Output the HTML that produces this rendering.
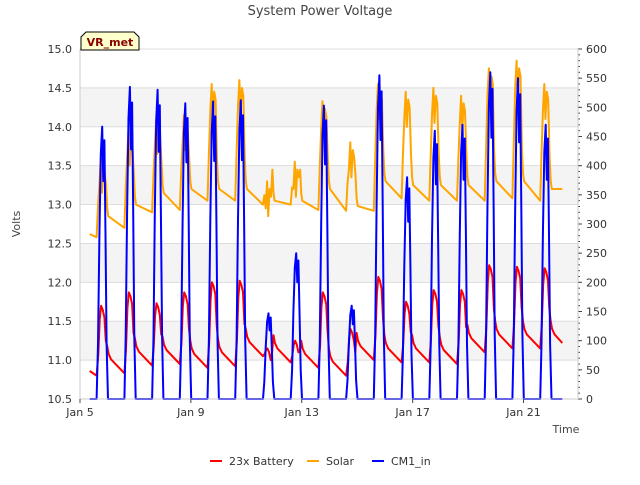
<!DOCTYPE html>
<html><head><meta charset="utf-8"><style>
body{margin:0;background:#fff;font-family:"Liberation Sans","DejaVu Sans",sans-serif}
svg text{font-family:"DejaVu Sans","Liberation Sans",sans-serif}
</style></head><body>
<svg id="c" width="640" height="480" xmlns="http://www.w3.org/2000/svg">
<rect width="640" height="480" fill="#fff"/>
<g id="bands"></g><g id="grid"></g>
<g id="series"></g><g id="axes"></g>
<text x="320" y="15" text-anchor="middle" font-size="13" fill="#444">System Power Voltage</text>
<text x="20" y="224" text-anchor="middle" font-size="11" fill="#444" transform="rotate(-90 20 224)">Volts</text>
<text x="566" y="433" text-anchor="middle" font-size="11" fill="#444">Time</text>
<g><path d="M81 50 L81 37 L86 32 L134 32 L139 37 L139 50 Z" fill="#ffffcc" stroke="#000"/><text x="110" y="46" text-anchor="middle" font-size="11" font-weight="bold" fill="#8b0000">VR_met</text></g>
<g>
<g><line x1="210" y1="461" x2="222" y2="461" stroke="#f00" stroke-width="2"/><text x="229" y="465" font-size="11" fill="#333">23x Battery</text></g>
<g><line x1="307" y1="461" x2="319" y2="461" stroke="orange" stroke-width="2"/><text x="326" y="465" font-size="11" fill="#333">Solar</text></g>
<g><line x1="372" y1="461" x2="384" y2="461" stroke="#00f" stroke-width="2"/><text x="391" y="465" font-size="11" fill="#333">CM1_in</text></g>
</g>
</svg>
<script>
// per-day values (day index 0 = Jan 5)
const batPre  =[10.80,10.83,10.93,10.95,10.90,10.92,11.05,10.97,10.90,10.80,11.00,10.97,10.97,10.95,11.10,11.15,11.15];
const batPeak =[11.70,11.87,11.73,11.87,12.00,12.02,11.15,11.25,11.87,11.40,12.07,11.75,11.90,11.90,12.22,12.20,12.18];
const solMin  =[12.58,12.70,12.90,12.93,13.05,13.05,13.00,13.00,12.93,12.92,12.92,13.08,13.05,13.05,13.05,13.08,13.05];
const solPeak =[13.60,13.95,14.10,14.15,14.55,14.60,13.30,13.55,14.33,13.80,14.55,14.45,14.50,14.40,14.75,14.85,14.55];
const solAfter=[12.85,13.00,13.15,13.20,13.20,13.20,13.05,13.05,13.20,12.98,13.30,13.25,13.25,13.25,13.30,13.30,13.20];
const cmPeak  =[467,535,530,507,510,512,147,250,503,160,555,380,460,470,560,550,470];
const yTicks=["10.5","11.0","11.5","12.0","12.5","13.0","13.5","14.0","14.5","15.0"];
const y2Ticks=[0,50,100,150,200,250,300,350,400,450,500,550,600];
const xTicks=[[0,"Jan 5"],[4,"Jan 9"],[8,"Jan 13"],[12,"Jan 17"],[16,"Jan 21"]];
const L=80,R=578,T=49,B=399;
const X=t=>L+t*27.72, Y=v=>B-(v-10.5)/4.5*(B-T), Y2=v=>B-v/600*(B-T);
const NS="http://www.w3.org/2000/svg";
function mk(tag,at,par){const e=document.createElementNS(NS,tag);for(const k in at)e.setAttribute(k,at[k]);document.getElementById(par).appendChild(e);return e;}
for(let i=0;i<9;i++){ if(i%2==1){const r=mk('rect',{x:L,y:Y(10.5+(i+1)*0.5),width:R-L,height:Y(10.5+i*0.5)-Y(10.5+(i+1)*0.5),fill:'#f4f4f4'},'bands');

}}
yTicks.forEach((s,i)=>{const v=+s;const l=mk('line',{x1:L,x2:R,y1:Y(v),y2:Y(v),stroke:'#ddd'},'grid');


const t=mk('text',{x:L-8,y:Y(v)+4,'text-anchor':'end','font-size':11,fill:'#333'},'axes');t.textContent=s;

});
y2Ticks.forEach(v=>{const t=mk('text',{x:R+8,y:Y2(v)+4,'font-size':11,fill:'#333'},'axes');t.textContent=v;


mk('line',{x1:R,x2:R+4,y1:Y2(v),y2:Y2(v),stroke:'#444'},'axes');});
for(let v=0;v<=600;v+=10){mk('line',{x1:R,x2:R+2,y1:Y2(v),y2:Y2(v),stroke:'#444'},'axes');}
mk('line',{x1:L,x2:L,y1:T,y2:B,stroke:'#ccc'},'axes');mk('line',{x1:R,x2:R,y1:T,y2:B,stroke:'#ccc'},'axes');
mk('line',{x1:L,x2:R,y1:B,y2:B,stroke:'#ccc'},'axes');
xTicks.forEach(([d,s])=>{mk('line',{x1:X(d),x2:X(d),y1:B,y2:B+4,stroke:'#444'},'axes');const t=mk('text',{x:X(d),y:B+17,'text-anchor':'middle','font-size':11,fill:'#333'},'axes');t.textContent=s;

});
const n=batPre.length;
let bat=[[0.35,10.86]],sol=[[0.35,12.62]],cm=[[0.35,0]];
for(let d=0;d<n;d++){
 const bp=batPeak[d],pre=batPre[d],nxt=d+1<n?batPre[d+1]:11.15;
 const a=bp-pre;
 bat.push([d+0.6,pre],[d+0.66,pre+a*0.3],[d+0.71,pre+a*0.8],[d+0.76,bp],[d+0.82,bp-0.05],[d+0.88,bp-0.15],[d+0.93,pre+a*0.5],[d+0.98,nxt+0.35],[d+1.03,nxt+0.25],[d+1.12,nxt+0.18]);
 const sp=solPeak[d],sm=solMin[d],sa=solAfter[d];
 sol.push([d+0.6,sm],[d+0.65,sm+(sp-sm)*0.4],[d+0.7,sp-0.35],[d+0.75,sp],[d+0.79,sp-0.45],[d+0.84,sp-0.1],[d+0.89,sp-0.2],[d+0.94,sa+0.4],[d+0.98,sa+0.1],[d+1.02,sa]);
 const cp=cmPeak[d];
 cm.push([d+0.6,0],[d+0.65,cp*0.2],[d+0.7,cp*0.6],[d+0.75,cp*0.9],[d+0.8,cp],[d+0.84,cp*0.8],[d+0.88,cp*0.95],[d+0.92,cp*0.6],[d+0.96,cp*0.2],[d+1.01,0]);
}
bat=bat.filter(p=>p[0]<=17.35);sol=sol.filter(p=>p[0]<=17.35);cm=cm.filter(p=>p[0]<=17.35);
bat.push([17.4,11.22]);sol.push([17.4,13.2]);cm.push([17.4,0]);
function line(pts,fy,col,name){const p=mk('polyline',{points:pts.map(q=>X(q[0]).toFixed(1)+','+fy(q[1]).toFixed(1)).join(' '),fill:'none',stroke:col,'stroke-width':2,'stroke-linejoin':'round'},'series');

}
line(sol,Y,'orange','solar-line');line(bat,Y,'#f00','battery-line');line(cm,Y2,'#00f','cm1-line');
</script>
</body></html>
